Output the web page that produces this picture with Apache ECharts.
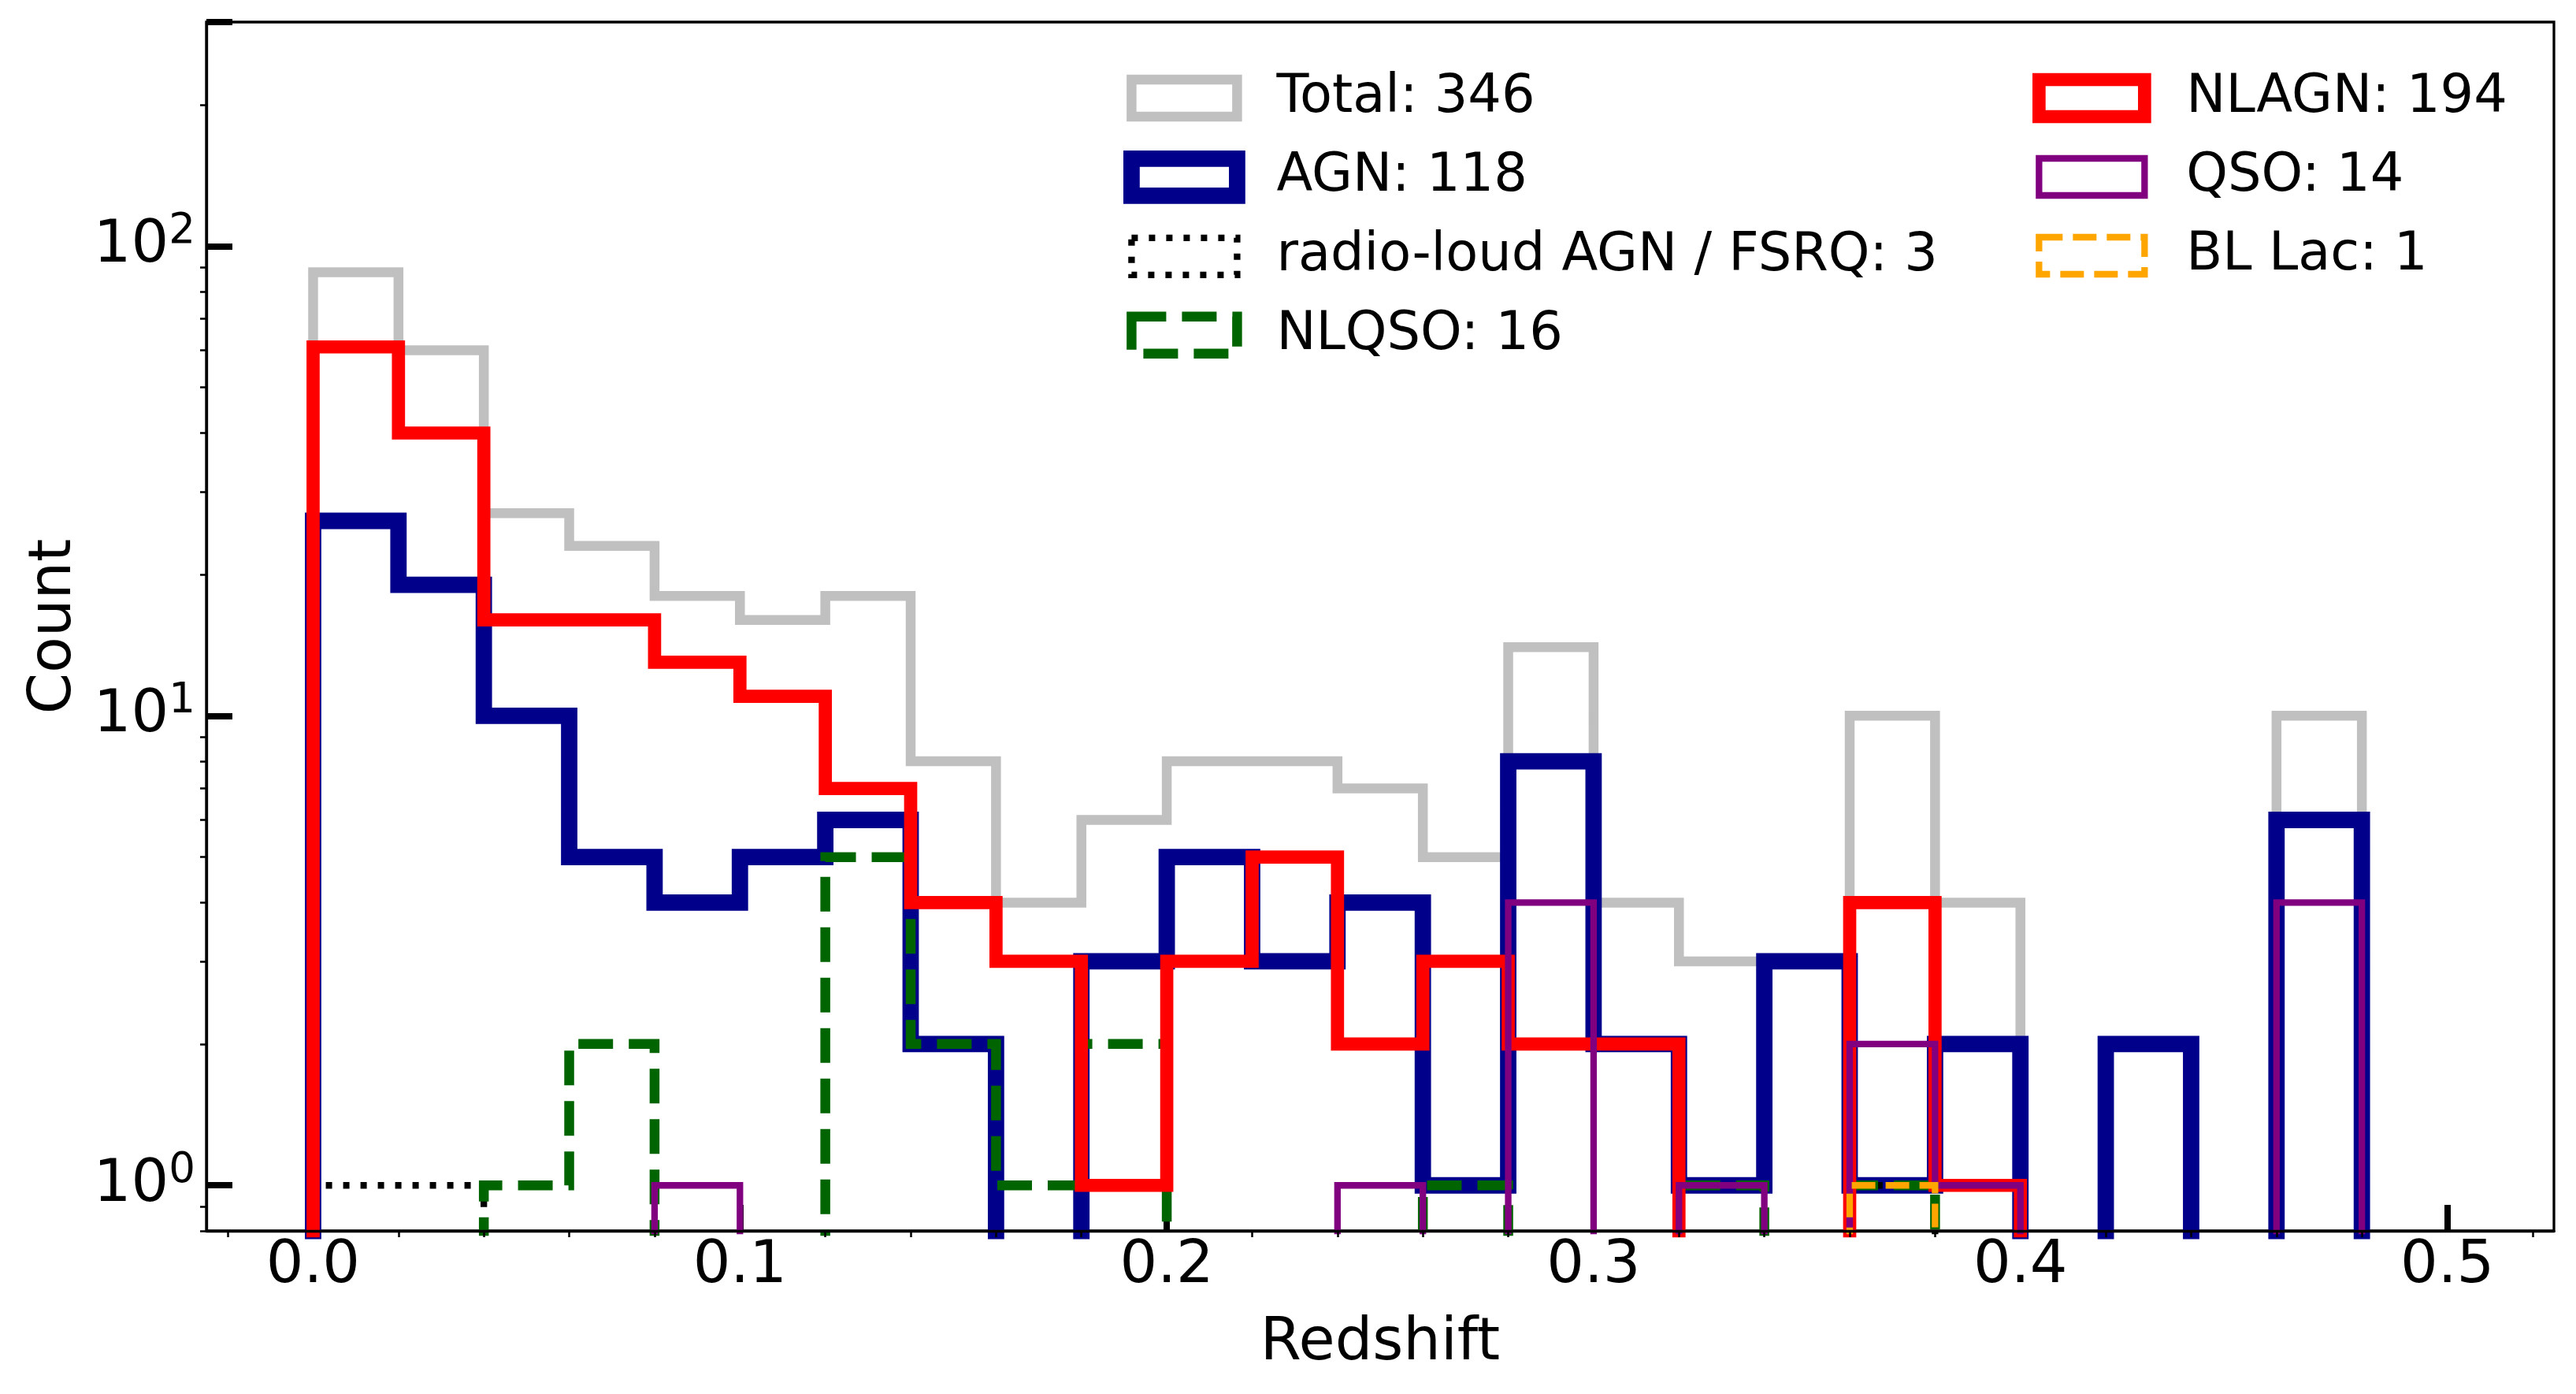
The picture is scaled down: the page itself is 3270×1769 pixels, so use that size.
<!DOCTYPE html>
<html>
<head>
<meta charset="utf-8">
<script src="https://cdn.jsdelivr.net/npm/echarts@6/dist/echarts.min.js"></script>
<style>
html,body{margin:0;padding:0;background:#fff;}
#chart{width:3270px;height:1769px;}
</style>
</head>
<body>
<div id="chart"></div>
<script>
// ---- data ----
const binEdges = [0.00,0.02,0.04,0.06,0.08,0.10,0.12,0.14,0.16,0.18,0.20,0.22,0.24,
                  0.26,0.28,0.30,0.32,0.34,0.36,0.38,0.40,0.42,0.44,0.46,0.48];
const totalCounts     = [88,60,27,23,18,16,18,8,4,6,8,8,7,5,14,4,3,3,10,4,0,2,0,10];
const agnCounts       = [26,19,10,5,4,5,6,2,0,3,5,3,4,1,8,2,1,3,1,2,0,2,0,6];
const radioLoudCounts = [1,1,0,0,0,0,0,0,0,0,0,0,0,0,0,0,0,0,1,0,0,0,0,0];
const nlqsoCounts     = [0,0,1,2,0,0,5,2,1,2,0,0,0,1,0,0,1,0,1,0,0,0,0,0];
const nlagnCounts     = [61,40,16,16,13,11,7,4,3,1,3,5,2,3,2,2,0,0,4,1,0,0,0,0];
const qsoCounts       = [0,0,0,0,1,0,0,0,0,0,0,0,1,0,4,0,1,0,2,1,0,0,0,4];
const blLacCounts     = [0,0,0,0,0,0,0,0,0,0,0,0,0,0,0,0,0,0,1,0,0,0,0,0];

const seriesNames = ['Total: 346','AGN: 118','radio-loud AGN / FSRQ: 3','NLQSO: 16',
                     'NLAGN: 194','QSO: 14','BL Lac: 1'];

const xMajorTicks = [0.0,0.1,0.2,0.3,0.4,0.5];
const xMinorTicks = [-0.02,0.02,0.04,0.06,0.08,0.12,0.14,0.16,0.18,0.22,0.24,0.26,0.28,
                     0.32,0.34,0.36,0.38,0.42,0.44,0.46,0.48,0.52];
const yMajorTicks = [1,10,100];
const yMinorTicks = [0.8,0.9,2,3,4,5,6,7,8,9,20,30,40,50,60,70,80,90,200];

// ---- build step-histogram outlines (matplotlib histtype="step") ----
const FLOOR = 1e-3; // empty bins drop below the axis and get clipped
function stepData(counts){
  const pts = [[binEdges[0], FLOOR]];
  counts.forEach((c,i)=>{
    const v = c > 0 ? c : FLOOR;
    pts.push([binEdges[i], v], [binEdges[i+1], v]);
  });
  pts.push([binEdges[binEdges.length-1], FLOOR]);
  return pts;
}

const styles = [
  {counts: totalCounts,     color:'#c0c0c0', width:12.5, type:'solid'},
  {counts: agnCounts,       color:'#00008b', width:20.8, type:'solid'},
  {counts: radioLoudCounts, color:'#000000', width:8.3,  type:[8,14]},
  {counts: nlqsoCounts,     color:'#006400', width:12.5, type:[44,20]},
  {counts: nlagnCounts,     color:'#ff0000', width:16.7, type:'solid'},
  {counts: qsoCounts,       color:'#800080', width:8.3,  type:'solid'},
  {counts: blLacCounts,     color:'#ffa500', width:8.3,  type:[30,13]}
];

const FONT = 'DejaVu Sans';

const series = styles.map((s,i)=>({
  name: seriesNames[i],
  type: 'line',
  xAxisIndex: 0,
  yAxisIndex: 0,
  data: stepData(s.counts),
  symbol: 'none',
  clip: true,
  animation: false,
  lineStyle: {color: s.color, width: s.width, type: s.type, join: 'miter', cap: 'butt'},
  itemStyle: {color: s.color}
}));

function legendItem(i){
  const s = styles[i];
  return {
    name: seriesNames[i],
    icon: 'rect',
    itemStyle: {color: 'rgba(0,0,0,0)', borderColor: s.color, borderWidth: s.width,
                borderType: s.type, borderJoin: 'miter'}
  };
}

const legendCommon = {
  orient: 'vertical',
  selectedMode: false,
  padding: 0,
  itemWidth: 134,
  itemHeight: 47,
  itemGap: 33,
  textStyle: {fontFamily: FONT, fontSize: 67, color: '#000', lineHeight: 67}
};

const option = {
  backgroundColor: '#fff',
  animation: false,
  grid: {left: 262, right: 28, top: 28, bottom: 207, show: true,
         borderColor: '#000', borderWidth: 3.3, backgroundColor: 'transparent'},
  legend: [
    Object.assign({}, legendCommon, {
      left: 1426, top: 91,
      data: [0,1,2,3].map(legendItem),
      textStyle: Object.assign({}, legendCommon.textStyle, {padding: [0,0,0,45]})
    }),
    Object.assign({}, legendCommon, {
      left: 2580, top: 91,
      data: [4,5,6].map(legendItem),
      textStyle: Object.assign({}, legendCommon.textStyle, {padding: [0,0,0,48]})
    })
  ],
  xAxis: [
    {
      type: 'value', min: -0.025, max: 0.525, position: 'bottom',
      name: 'Redshift', nameLocation: 'middle', nameGap: 106,
      nameTextStyle: {fontFamily: FONT, fontSize: 75, color: '#000'},
      splitLine: {show: false},
      axisLine: {show: false, onZero: false},
      axisTick: {show: true, inside: true, length: 33, lineStyle: {color:'#000', width: 8}, customValues: xMajorTicks},
      axisLabel: {show: true, margin: 8, fontFamily: FONT, fontSize: 75, color: '#000',
                  customValues: xMajorTicks, formatter: v => v.toFixed(1)}
    },
    {
      type: 'value', min: -0.025, max: 0.525, position: 'bottom', z: 5,
      splitLine: {show: false},
      axisLine: {show: true, onZero: false, lineStyle: {color:'#000', width: 3.3}},
      axisTick: {show: true, inside: false, length: 8, lineStyle: {color:'#000', width: 2.5}, customValues: xMinorTicks},
      axisLabel: {show: false}
    }
  ],
  yAxis: [
    {
      type: 'log', logBase: 10, min: 0.8, max: 300, position: 'left',
      name: 'Count', nameLocation: 'middle', nameGap: 155, nameRotate: 90,
      nameTextStyle: {fontFamily: FONT, fontSize: 75, color: '#000'},
      splitLine: {show: false},
      axisLine: {show: false, onZero: false},
      axisTick: {show: true, inside: true, length: 33, lineStyle: {color:'#000', width: 8}, customValues: yMajorTicks.concat([300])},
      axisLabel: {
        show: true, margin: 14, customValues: yMajorTicks,
        formatter: v => '{b|10}{s|' + Math.round(Math.log10(v)) + '}',
        rich: {
          b: {fontFamily: FONT, fontSize: 75, color: '#000', lineHeight: 90},
          s: {fontFamily: FONT, fontSize: 53, color: '#000', lineHeight: 55, verticalAlign: 'top'}
        }
      }
    },
    {
      type: 'log', logBase: 10, min: 0.8, max: 300, position: 'left', z: 5,
      splitLine: {show: false},
      axisLine: {show: true, onZero: false, lineStyle: {color:'#000', width: 3.3}},
      axisTick: {show: true, inside: false, length: 8, lineStyle: {color:'#000', width: 2.5}, customValues: yMinorTicks},
      axisLabel: {show: false}
    }
  ],
  series: series
};

const chart = echarts.init(document.getElementById('chart'), null, {renderer: 'canvas'});
chart.setOption(option);
</script>
</body>
</html>
